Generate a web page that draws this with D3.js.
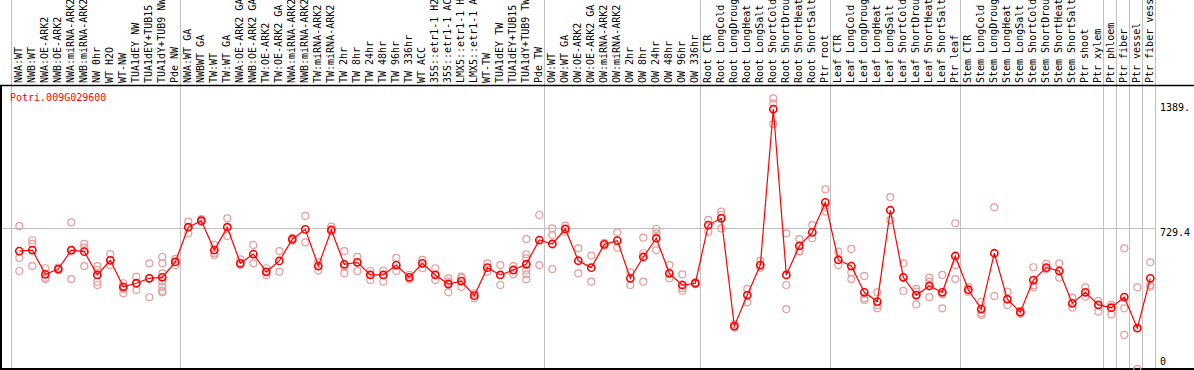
<!DOCTYPE html>
<html lang="en">
<head>
  <meta charset="utf-8">
  <title>Potri.009G029600 expression</title>
  <script src="https://d3js.org/d3.v7.min.js"></script>
  <style>
    body { margin: 0; background: #fff; }
    svg { display: block; }
    text { font-family: "DejaVu Sans Mono", monospace; font-size: 10px; }
  </style>
</head>
<body>
  <div id="chart"></div>
  <script>
    // sample names, in plot order
    const samples = [
      "NWA:WT", "NWB:WT", "NWA:OE-ARK2", "NWB:OE-ARK2", "NWA:miRNA-ARK2", "NWB:miRNA-ARK2",
      "NW 0hr", "WT H2O", "WT-NW", "TUA1dEY NW", "TUA1dEY+TUB15 NW", "TUA1dY+TUB9 NW", "Pde NW",
      "NWA:WT GA", "NWBWT GA", "TW:WT", "TW:WT GA", "NWA:OE-ARK2 GA", "NWB:OE-ARK2 GA",
      "TW:OE-ARK2", "TW:OE-ARK2 GA", "NWA:miRNA-ARK2 GA", "NWB:miRNA-ARK2 GA", "TW:miRNA-ARK2",
      "TW:miRNA-ARK2 GA", "TW 2hr", "TW 8hr", "TW 24hr", "TW 48hr", "TW 96hr", "TW 336hr",
      "WT ACC", "35S::etr1-1 H2O", "35S::etr1-1 ACC", "LMX5::etr1-1 H2O", "LMX5::etr1-1 ACC",
      "WT-TW", "TUA1dEY TW", "TUA1dEY+TUB15 TW", "TUA1dY+TUB9 TW", "Pde TW",
      "OW:WT", "OW:WT GA", "OW:OE-ARK2", "OW:OE-ARK2 GA", "OW:miRNA-ARK2", "OW:miRNA-ARK2 GA",
      "OW 2hr", "OW 8hr", "OW 24hr", "OW 48hr", "OW 96hr", "OW 336hr",
      "Root CTR", "Root LongCold", "Root LongDrought", "Root LongHeat", "Root LongSalt",
      "Root ShortCold", "Root ShortDrought", "Root ShortHeat", "Root ShortSalt", "Ptr root",
      "Leaf CTR", "Leaf LongCold", "Leaf LongDrought", "Leaf LongHeat", "Leaf LongSalt",
      "Leaf ShortCold", "Leaf ShortDrought", "Leaf ShortHeat", "Leaf ShortSalt", "Ptr leaf",
      "Stem CTR", "Stem LongCold", "Stem LongDrought", "Stem LongHeat", "Stem LongSalt",
      "Stem ShortCold", "Stem ShortDrought", "Stem ShortHeat", "Stem ShortSalt", "Ptr shoot",
      "Ptr xylem", "Ptr phloem", "Ptr fiber", "Ptr vessel", "Ptr fiber vessel"
    ];

    // group boundaries (index of first sample after each separator)
    const groupBreaks = [0, 13, 41, 53, 63, 73, 84, 85, 86, 87, 88];

    // mean expression per sample
    const means = [
      613, 618, 495, 522, 618, 610, 492, 566, 432, 450, 475, 480, 558,
      734, 767, 618, 734, 551, 598, 508, 563, 673, 723, 537, 720, 546, 556, 492, 492, 542,
      480, 551, 492, 446, 461, 387, 529, 492, 517, 547, 669,
      649, 725, 564, 529, 647, 666, 475, 583, 678, 500, 441, 450,
      745, 779, 233, 390, 542, 1333, 492, 639, 708, 860,
      568, 537, 404, 357, 820, 480, 390, 436, 404, 588,
      417, 319, 602, 369, 303, 466, 529, 512, 348, 404, 340,
      326, 380, 222, 475
    ];

    // replicate values per sample
    const replicates = [
      [739, 579, 512], [668, 650, 537], [526, 478, 471], [529, 517, 522], [759, 615, 471],
      [650, 630, 537], [537, 517, 458, 441], [598, 542, 568], [450, 421, 399], [482, 450, 416],
      [551, 475, 379], [583, 551, 500, 458, 432, 411, 404], [559, 542, 573],
      [762, 703, 735], [760, 775], [644, 602, 593], [779, 689], [571, 542], [644, 551],
      [526, 492], [613, 508], [665, 680], [791, 657], [559, 514], [737, 711], [613, 534, 500],
      [584, 512], [512, 466], [514, 458], [579, 512], [492, 470], [568, 526], [526, 466],
      [475, 458, 404], [483, 478, 432], [399, 374], [551, 508], [542, 441], [537, 495],
      [674, 597, 576, 542, 517, 495, 470], [796, 542],
      [728, 694, 522], [742, 711], [627, 500], [590, 458], [640, 655], [708, 630], [505, 441],
      [681, 602, 458], [725, 703, 618], [542, 475], [495, 424, 412], [445, 455],
      [771, 711], [813, 796, 728], [242, 225], [421, 353], [563, 529], [1387, 1362, 1257],
      [703, 441, 319], [674, 613, 610], [745, 678], [926, 833, 813],
      [610, 542], [624, 505, 471], [487, 374, 365], [404, 340, 323], [887, 770], [551, 411],
      [421, 407, 343], [478, 458, 380], [492, 394, 323], [754, 542, 471],
      [432, 407], [356, 298, 289], [835, 385], [407, 340], [295, 310], [531, 429, 440],
      [548, 522], [551, 478], [377, 326], [429, 382], [360, 306],
      [340, 292], [627, 323, 188], [429, 15], [556, 441, 432]
    ];

    const geneName = "Potri.009G029600";
    const yMax = 1389;
    const refLine = 729.4;
    const tickValues = [0, 729.4, 1389];
    const tickLabels = ["0", "729.4", "1389."];

    const width = 1194, height = 370;
    const plotTop = 85, plotBottom = 369, plotRight = 1155;

    const svg = d3.select("#chart").append("svg")
      .attr("width", width)
      .attr("height", height);

    // x: one 13px slot per sample, grid lines at slot edges
    const x = d3.scaleLinear().domain([0, samples.length]).range([11, plotRight]);
    const px = i => x(i + 0.64);
    const y = d3.scaleLinear().domain([0, yMax]).range([372, 98]);

    // group separators (through label area and plot)
    svg.append("g").selectAll("line")
      .data(groupBreaks)
      .join("line")
      .attr("x1", d => x(d) + 0.5).attr("x2", d => x(d) + 0.5)
      .attr("y1", 0).attr("y2", height)
      .attr("stroke", "#c0c0c0");

    // reference line
    svg.append("line")
      .attr("x1", 0).attr("x2", plotRight)
      .attr("y1", Math.round(y(refLine)) + 0.5).attr("y2", Math.round(y(refLine)) + 0.5)
      .attr("stroke", "#c0c0c0");

    // frame
    svg.append("line").attr("x1", 0).attr("x2", width)
      .attr("y1", plotTop + 0.5).attr("y2", plotTop + 0.5)
      .attr("stroke", "#000").attr("stroke-width", 1.5);
    svg.append("line").attr("x1", 0).attr("x2", width)
      .attr("y1", plotBottom).attr("y2", plotBottom)
      .attr("stroke", "#000").attr("stroke-width", 2);
    svg.append("line").attr("x1", 1).attr("x2", 1)
      .attr("y1", plotTop).attr("y2", height)
      .attr("stroke", "#000").attr("stroke-width", 2);

    // sample labels, rotated
    svg.append("g").selectAll("text")
      .data(samples)
      .join("text")
      .attr("transform", (d, i) => `translate(${px(i) + 3},83) rotate(-90)`)
      .attr("fill", "#000")
      .text(d => d);

    // right-hand value labels
    svg.append("g").selectAll("text")
      .data(tickValues)
      .join("text")
      .attr("x", plotRight + 5)
      .attr("y", d => Math.min(Math.max(y(d) + 8, 111), 365))
      .attr("fill", "#000")
      .text((d, i) => tickLabels[i]);

    // gene name
    svg.append("text")
      .attr("x", 10).attr("y", 101)
      .attr("fill", "#ff0000")
      .text(geneName);

    const plot = svg.append("g");

    // replicates
    const reps = replicates.flatMap((vals, i) => vals.map(v => ({ i, v })));
    plot.append("g").selectAll("circle")
      .data(reps)
      .join("circle")
      .attr("cx", d => px(d.i))
      .attr("cy", d => y(d.v))
      .attr("r", 3.5)
      .attr("fill", "none")
      .attr("stroke", "#e99a9a")
      .attr("stroke-width", 1.2);

    // mean line
    const line = d3.line().x((d, i) => px(i)).y(d => y(d));
    plot.append("path")
      .datum(means)
      .attr("d", line)
      .attr("fill", "none")
      .attr("stroke", "#ff0000")
      .attr("stroke-width", 1.2);

    // mean markers
    plot.append("g").selectAll("circle")
      .data(means)
      .join("circle")
      .attr("cx", (d, i) => px(i))
      .attr("cy", d => y(d))
      .attr("r", 3.6)
      .attr("fill", "none")
      .attr("stroke", "#ff0000")
      .attr("stroke-width", 1.6);
  </script>
</body>
</html>
